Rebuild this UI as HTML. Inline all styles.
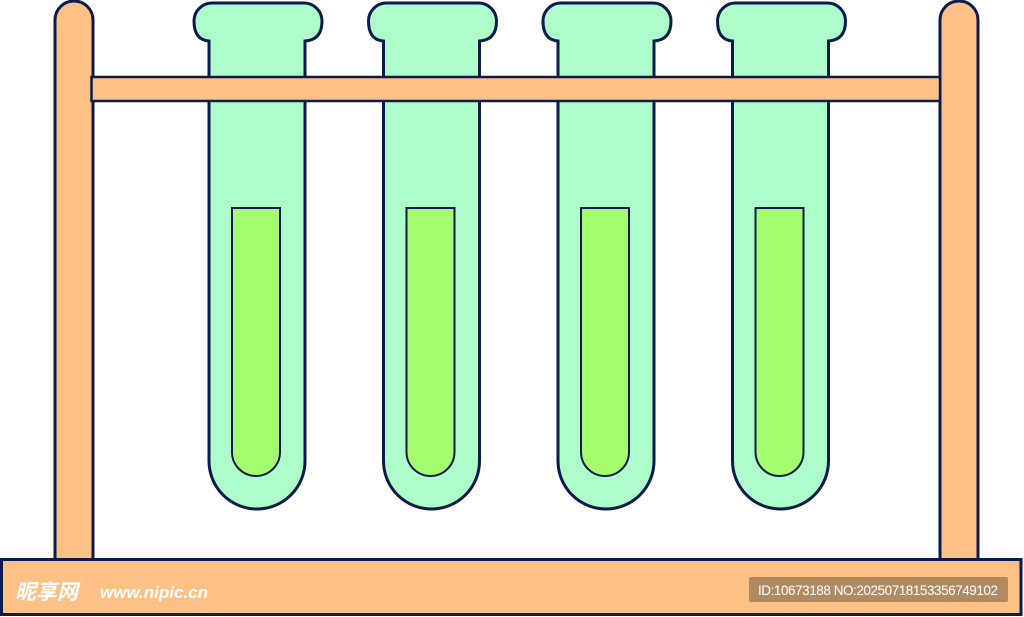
<!DOCTYPE html>
<html><head><meta charset="utf-8"><style>
html,body{margin:0;padding:0;background:#fff;}
svg{display:block;}
</style></head><body>
<svg width="1024" height="617" viewBox="0 0 1024 617" xmlns="http://www.w3.org/2000/svg">
<defs>
<g id="tube">
<path d="M209,41 V461 A48,48 0 0 0 305,461 V41 Q322,40 322,21 A18,18 0 0 0 304,3 H212 A18,18 0 0 0 194,21 Q194,40 209,41 Z" fill="#adfcc9" stroke="#0c1a4e" stroke-width="3"/>
<path d="M232,208 V452 A24,24 0 0 0 280,452 V208 Z" fill="#a4fd6e" stroke="#0c1a4e" stroke-width="2"/>
</g>
</defs>
<path d="M55,560 V20 A19,19 0 0 1 93,20 V560 Z" fill="#fec185" stroke="#0c1a4e" stroke-width="3"/>
<path d="M940,560 V20 A19,19 0 0 1 978,20 V560 Z" fill="#fec185" stroke="#0c1a4e" stroke-width="3"/>
<use href="#tube"/>
<use href="#tube" transform="translate(174.5,0)"/>
<use href="#tube" transform="translate(349,0)"/>
<use href="#tube" transform="translate(523.5,0)"/>
<rect x="91.5" y="77" width="848.5" height="24" fill="#fec185" stroke="#0c1a4e" stroke-width="2.5"/>
<rect x="1.5" y="559.5" width="1019.5" height="55" fill="#fec185" stroke="#0c1a4e" stroke-width="3"/>
<text x="15" y="599" font-family="'Liberation Sans','Noto Sans CJK SC',sans-serif" font-size="21" font-weight="bold" font-style="italic" fill="#fff">昵享网</text>
<text x="100" y="598" font-family="'Liberation Sans',sans-serif" font-size="17" font-weight="bold" font-style="italic" fill="#fff">www.nipic.cn</text>
<rect x="749" y="577" width="259" height="25" rx="2" fill="#b08a60"/>
<text x="758" y="595" font-family="'Liberation Sans',sans-serif" font-size="13.5" fill="#fff" textLength="240">ID:10673188 NO:20250718153356749102</text>
</svg>
</body></html>
